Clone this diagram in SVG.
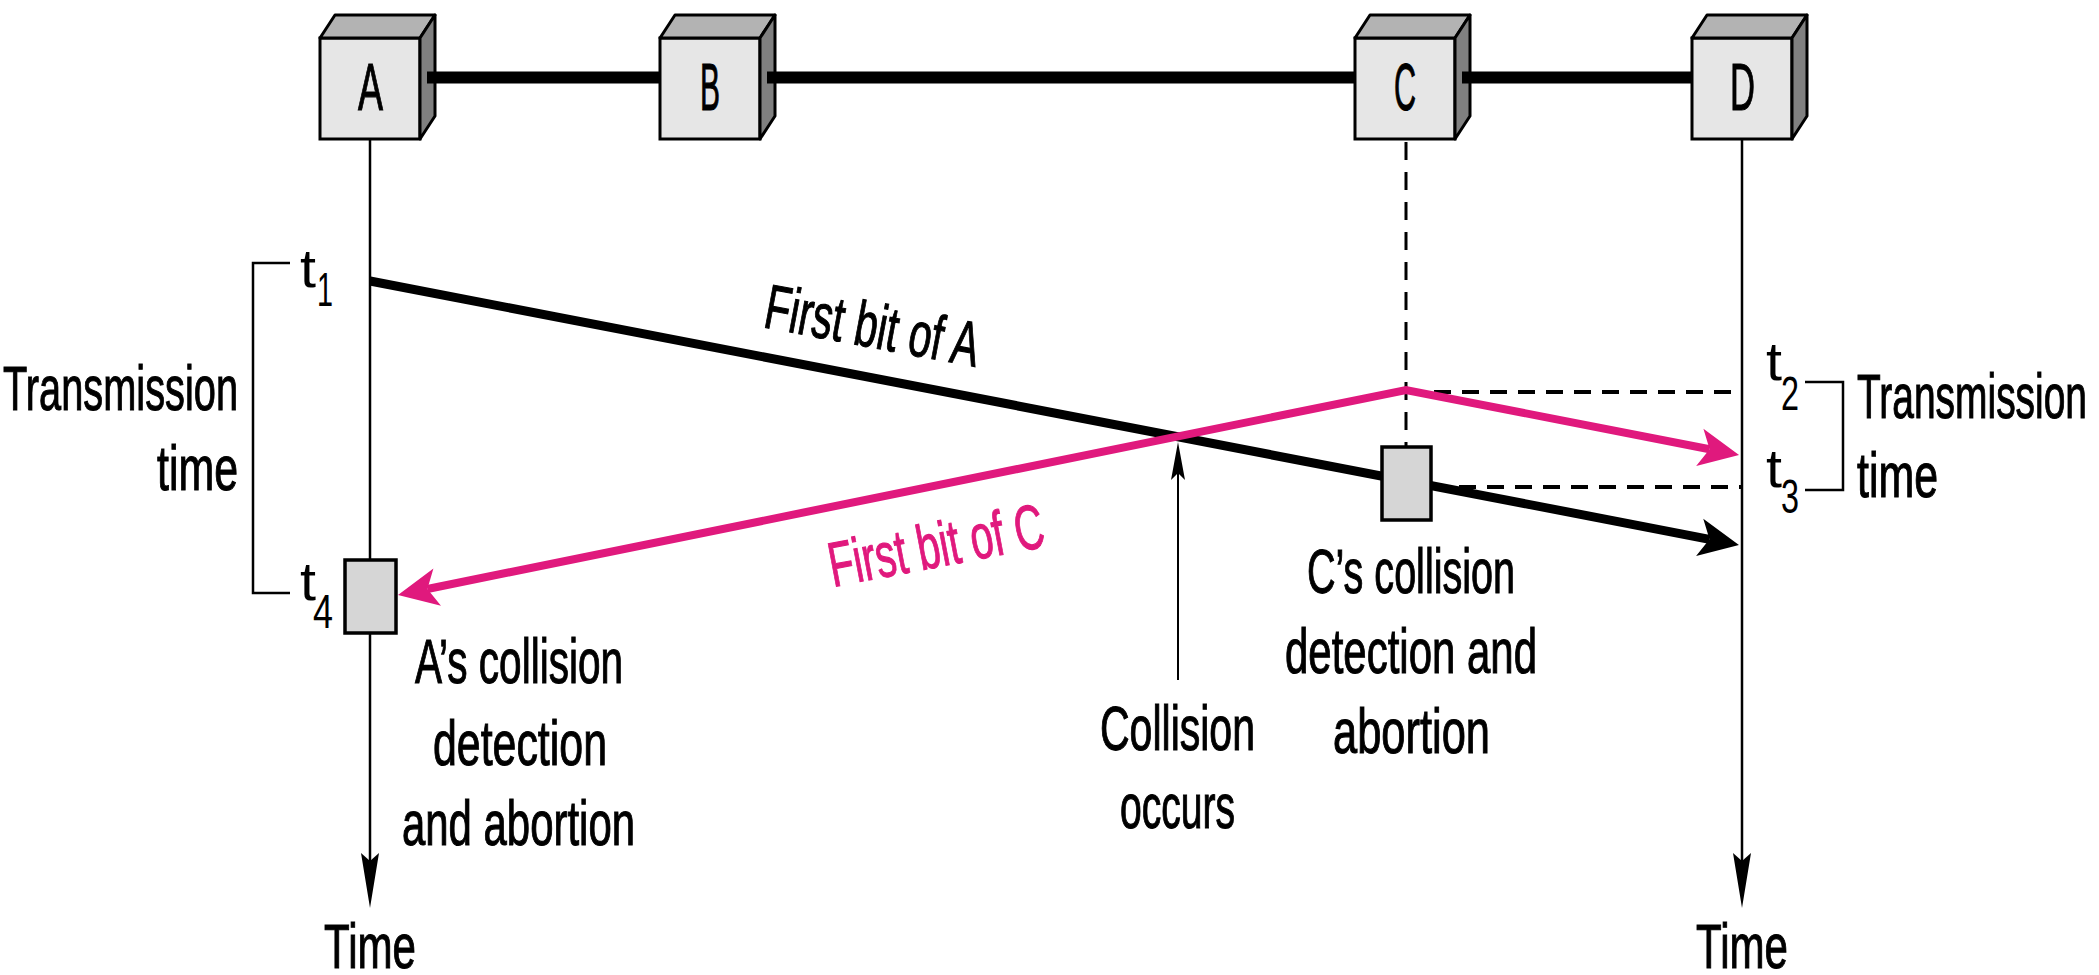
<svg xmlns="http://www.w3.org/2000/svg" width="2099" height="975" viewBox="0 0 2099 975">
<style>
text{font-family:"Liberation Sans",Arial,sans-serif;fill:#000;stroke:#000;stroke-width:1.1}
.lbl{font-size:63px}
.nl{font-size:67px}
.tt{font-size:54px;stroke-width:0}
.ts{font-size:49px;stroke-width:0}
.mtext{fill:#e0197d;stroke:#e0197d}
.front{fill:#e6e6e6;stroke:#000;stroke-width:3}
.top{fill:#b3b3b3;stroke:#000;stroke-width:3;stroke-linejoin:round}
.side{fill:#808080;stroke:#000;stroke-width:3;stroke-linejoin:round}
.bus{stroke:#000;stroke-width:12;fill:none}
.thin{stroke:#000;stroke-width:2.5;fill:none}
.dash{stroke:#000;stroke-width:3;stroke-dasharray:18 12;fill:none}
.ddash{stroke:#000;stroke-width:4;stroke-dasharray:17 11;fill:none}
.small{fill:#d6d6d6;stroke:#000;stroke-width:3.5}
</style>
<defs>
<marker id="ahBlack" markerUnits="userSpaceOnUse" orient="auto" refX="10" refY="0" markerWidth="42" markerHeight="42" viewBox="0 -21 42 42" overflow="visible">
<path d="M0,-19 L40,0 L0,19 L10,0 Z" fill="#000"/>
</marker>
<marker id="ahMag" markerUnits="userSpaceOnUse" orient="auto-start-reverse" refX="10" refY="0" markerWidth="42" markerHeight="42" viewBox="0 -21 42 42" overflow="visible">
<path d="M0,-19 L40,0 L0,19 L10,0 Z" fill="#e0197d"/>
</marker>
<marker id="ahTime" markerUnits="userSpaceOnUse" orient="auto" refX="8" refY="0" markerWidth="56" markerHeight="20" viewBox="0 -10 56 20" overflow="visible">
<path d="M0,-9 L55,0 L0,9 L8,0 Z" fill="#000"/>
</marker>
<marker id="ahSmall" markerUnits="userSpaceOnUse" orient="auto" refX="7" refY="0" markerWidth="40" markerHeight="16" viewBox="0 -8 40 16" overflow="visible">
<path d="M0,-7 L38,0 L0,7 L7,0 Z" fill="#000"/>
</marker>
</defs>
<rect width="2099" height="975" fill="#fff"/>

<g id="timelines">
<line class="thin" x1="370" y1="139" x2="370" y2="560"/>
<line class="thin" x1="370" y1="633" x2="370" y2="861" marker-end="url(#ahTime)"/>
<line class="thin" x1="1742" y1="140" x2="1742" y2="861" marker-end="url(#ahTime)"/>
<line class="dash" x1="1406" y1="142" x2="1406" y2="447"/>
</g>

<g id="node-A">
<rect class="front" x="320" y="38" width="100" height="101"/>
<polygon class="top" points="320,38 335,15 435,15 420,38"/>
<polygon class="side" points="420,38 435,15 435,116 420,139"/>
<text class="nl" x="358" y="110" textLength="25" lengthAdjust="spacingAndGlyphs">A</text>
</g>
<g id="node-B">
<rect class="front" x="660" y="38" width="100" height="101"/>
<polygon class="top" points="660,38 675,15 775,15 760,38"/>
<polygon class="side" points="760,38 775,15 775,116 760,139"/>
<text class="nl" x="700" y="110" textLength="20" lengthAdjust="spacingAndGlyphs">B</text>
</g>
<g id="node-C">
<rect class="front" x="1355" y="38" width="100" height="101"/>
<polygon class="top" points="1355,38 1370,15 1470,15 1455,38"/>
<polygon class="side" points="1455,38 1470,15 1470,116 1455,139"/>
<text class="nl" x="1394" y="110" textLength="22" lengthAdjust="spacingAndGlyphs">C</text>
</g>
<g id="node-D">
<rect class="front" x="1692" y="38" width="100" height="101"/>
<polygon class="top" points="1692,38 1707,15 1807,15 1792,38"/>
<polygon class="side" points="1792,38 1807,15 1807,116 1792,139"/>
<text class="nl" x="1730" y="110" textLength="25" lengthAdjust="spacingAndGlyphs">D</text>
</g>

<g id="connectors">
<line class="bus" x1="427" y1="77.5" x2="660" y2="77.5"/>
<line class="bus" x1="767" y1="77.5" x2="1355" y2="77.5"/>
<line class="bus" x1="1462" y1="77.5" x2="1692" y2="77.5"/>
<line class="ddash" x1="1406" y1="392" x2="1742" y2="392"/>
<line class="ddash" x1="1431" y1="487" x2="1742" y2="487"/>
<line x1="370" y1="281" x2="1709.5" y2="539.3" stroke="#000" stroke-width="9" marker-end="url(#ahBlack)"/>
<polyline points="427.4,589 1406,390 1709.6,449.25" fill="none" stroke="#e0197d" stroke-width="8" stroke-linejoin="miter" marker-start="url(#ahMag)" marker-end="url(#ahMag)"/>
<line x1="1178" y1="680" x2="1178" y2="473" stroke="#000" stroke-width="2" marker-end="url(#ahSmall)"/>
<polyline class="thin" points="290,263 253,263 253,593 290,593"/>
<polyline class="thin" points="1805,382 1843,382 1843,490 1805,490"/>
</g>

<g id="detect-A">
<rect class="small" x="345" y="560" width="51" height="73"/>
</g>
<g id="detect-C">
<rect class="small" x="1382" y="447" width="49" height="73"/>
</g>

<g id="labels">
<text class="tt" x="300" y="287" textLength="16" lengthAdjust="spacingAndGlyphs">t</text>
<text class="ts" x="317" y="306" textLength="16" lengthAdjust="spacingAndGlyphs">1</text>
<text class="tt" x="300" y="600" textLength="16" lengthAdjust="spacingAndGlyphs">t</text>
<text class="ts" x="313" y="628" textLength="20" lengthAdjust="spacingAndGlyphs">4</text>
<text class="tt" x="1766" y="380" textLength="16" lengthAdjust="spacingAndGlyphs">t</text>
<text class="ts" x="1781" y="410" textLength="18" lengthAdjust="spacingAndGlyphs">2</text>
<text class="tt" x="1766" y="487" textLength="16" lengthAdjust="spacingAndGlyphs">t</text>
<text class="ts" x="1781" y="513" textLength="18" lengthAdjust="spacingAndGlyphs">3</text>

<text class="lbl" x="3" y="410" textLength="235" lengthAdjust="spacingAndGlyphs">Transmission</text>
<text class="lbl" x="157" y="490" textLength="81" lengthAdjust="spacingAndGlyphs">time</text>
<text class="lbl" x="1857" y="418" textLength="230" lengthAdjust="spacingAndGlyphs">Transmission</text>
<text class="lbl" x="1857" y="497" textLength="81" lengthAdjust="spacingAndGlyphs">time</text>

<text class="lbl" transform="translate(762,327) rotate(10.6)" x="0" y="0" textLength="217" lengthAdjust="spacingAndGlyphs">First bit of A</text>
<text class="lbl mtext" transform="translate(833,587) rotate(-10.8)" x="0" y="0" textLength="218" lengthAdjust="spacingAndGlyphs">First bit of C</text>

<text class="lbl" x="415" y="683" textLength="208" lengthAdjust="spacingAndGlyphs">A’s collision</text>
<text class="lbl" x="433" y="765" textLength="174" lengthAdjust="spacingAndGlyphs">detection</text>
<text class="lbl" x="402" y="845" textLength="233" lengthAdjust="spacingAndGlyphs">and abortion</text>

<text class="lbl" x="1100" y="750" textLength="155" lengthAdjust="spacingAndGlyphs">Collision</text>
<text class="lbl" x="1120" y="828" textLength="115" lengthAdjust="spacingAndGlyphs">occurs</text>

<text class="lbl" x="1307" y="593" textLength="208" lengthAdjust="spacingAndGlyphs">C’s collision</text>
<text class="lbl" x="1285" y="673" textLength="252" lengthAdjust="spacingAndGlyphs">detection and</text>
<text class="lbl" x="1333" y="753" textLength="157" lengthAdjust="spacingAndGlyphs">abortion</text>

<text class="lbl" x="324" y="968" textLength="92" lengthAdjust="spacingAndGlyphs">Time</text>
<text class="lbl" x="1696" y="968" textLength="92" lengthAdjust="spacingAndGlyphs">Time</text>
</g>
</svg>
